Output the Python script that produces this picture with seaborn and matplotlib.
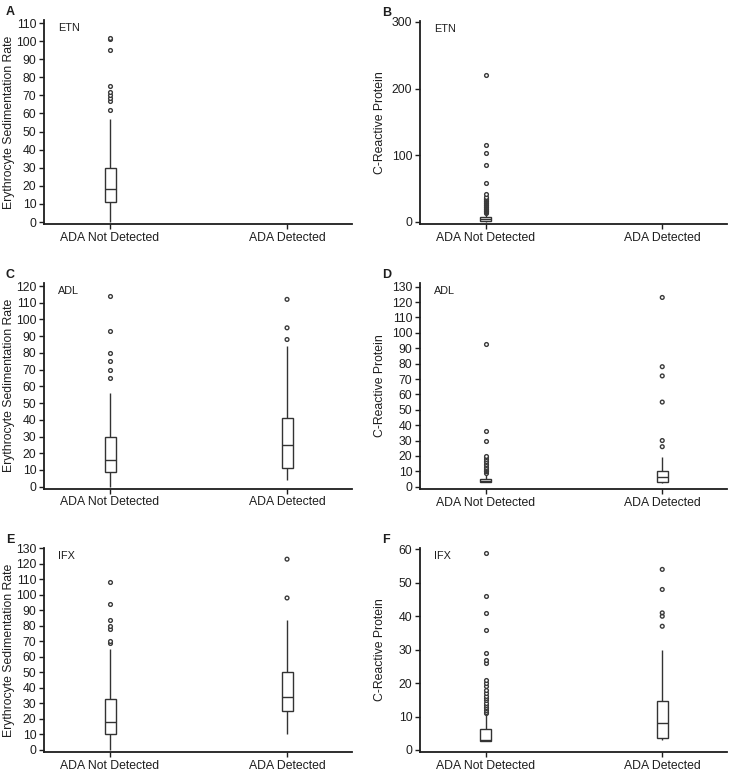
import numpy as np
import pandas as pd
import matplotlib
matplotlib.use("Agg")
import matplotlib.pyplot as plt
import seaborn as sns

# ---------------- data ----------------
groups = ["ADA Not Detected", "ADA Detected"]

# box summaries: [lower whisker, Q1, median, Q3, upper whisker]
etn_esr_nd = [0, 11, 18, 30, 57]
etn_esr_nd_out = [62, 67, 68.5, 70, 72, 75, 95, 101, 102]
etn_esr_d = []
etn_esr_d_out = []

etn_crp_nd = [0, 2, 4, 7.5, 13]
etn_crp_nd_out = [14, 15, 16, 17, 18, 19, 20, 21, 22, 23, 24, 25, 26, 27, 28,
                  29, 30, 31, 32, 33, 34, 35, 36, 37, 42, 58, 85, 103, 115, 220]
etn_crp_d = []
etn_crp_d_out = []

adl_esr_nd = [0, 9, 16, 30, 56]
adl_esr_nd_out = [65, 70, 75, 80, 93, 114]
adl_esr_d = [4, 11, 25, 41, 84]
adl_esr_d_out = [88, 95, 112]

adl_crp_nd = [2.8, 3, 4, 5, 8]
adl_crp_nd_out = [9, 10, 10.5, 11, 11.5, 12, 13, 14, 15, 16, 17, 18, 19, 20, 30, 36, 93]
adl_crp_d = [2.5, 3, 6.5, 10.2, 19.5]
adl_crp_d_out = [26, 30, 55, 72, 78, 123]

ifx_esr_nd = [0, 10, 18, 33, 65]
ifx_esr_nd_out = [69, 70, 78, 80, 84, 94, 108]
ifx_esr_d = [10, 25, 34, 50, 84]
ifx_esr_d_out = [98, 123]

ifx_crp_nd = [2.8, 2.8, 3, 6.3, 10.5]
ifx_crp_nd_out = [11, 11.5, 12, 12.5, 13, 13.5, 14, 15, 15.5, 16, 17, 18, 19, 20,
                  21, 26, 27, 29, 36, 41, 46, 59]
ifx_crp_d = [3, 3.5, 8, 14.7, 30]
ifx_crp_d_out = [37, 40, 41, 48, 54]

esr_label = "Erythrocyte Sedimentation Rate"
crp_label = "C-Reactive Protein"

panels = [
    dict(letter="A", drug="ETN", ylabel=esr_label, nd=etn_esr_nd, nd_out=etn_esr_nd_out,
         d=etn_esr_d, d_out=etn_esr_d_out, ticks=np.arange(0, 111, 10)),
    dict(letter="B", drug="ETN", ylabel=crp_label, nd=etn_crp_nd, nd_out=etn_crp_nd_out,
         d=etn_crp_d, d_out=etn_crp_d_out, ticks=np.arange(0, 301, 100)),
    dict(letter="C", drug="ADL", ylabel=esr_label, nd=adl_esr_nd, nd_out=adl_esr_nd_out,
         d=adl_esr_d, d_out=adl_esr_d_out, ticks=np.arange(0, 121, 10)),
    dict(letter="D", drug="ADL", ylabel=crp_label, nd=adl_crp_nd, nd_out=adl_crp_nd_out,
         d=adl_crp_d, d_out=adl_crp_d_out, ticks=np.arange(0, 131, 10)),
    dict(letter="E", drug="IFX", ylabel=esr_label, nd=ifx_esr_nd, nd_out=ifx_esr_nd_out,
         d=ifx_esr_d, d_out=ifx_esr_d_out, ticks=np.arange(0, 131, 10)),
    dict(letter="F", drug="IFX", ylabel=crp_label, nd=ifx_crp_nd, nd_out=ifx_crp_nd_out,
         d=ifx_crp_d, d_out=ifx_crp_d_out, ticks=np.arange(0, 61, 10)),
]

# ---------------- layout (pixel boxes) ----------------
W, H = 730, 771
boxes = [
    ((44, 20, 352, 224), (-1.1, 111.7)),
    ((420, 21, 727, 224), (-3.0, 301.5)),
    ((44, 283, 352, 488.7), (-1.2, 121.8)),
    ((420, 283, 727, 489), (-1.5, 132.4)),
    ((44, 547.7, 352, 752.3), (-1.5, 130.4)),
    ((420, 548, 727, 752), (-0.6, 60.4)),
]
label_offsets = [29, 34, 29, 34, 29, 34]

sns.set_theme(style="ticks")
plt.rcParams["font.family"] = ["Liberation Sans", "DejaVu Sans"]
ink = "#1e1e1e"

fig = plt.figure(figsize=(W / 100, H / 100), dpi=100)
fig.patch.set_facecolor("white")

for p, ((l, t, r, b), ylim), loff in zip(panels, boxes, label_offsets):
    ax = fig.add_axes([l / W, (H - b) / H, (r - l) / W, (b - t) / H])
    rows = [(groups[0], v) for v in p["nd"]] + [(groups[1], v) for v in p["d"]]
    df = pd.DataFrame(rows, columns=["group", "value"])
    out_rows = [(groups[0], v) for v in p["nd_out"]] + [(groups[1], v) for v in p["d_out"]]
    dfo = pd.DataFrame(out_rows, columns=["group", "value"])

    sns.boxplot(data=df, x="group", y="value", order=groups, ax=ax,
                whis=np.inf, showfliers=False, width=0.062, color="white",
                linecolor="#333333", linewidth=1.0, showcaps=False)
    sns.stripplot(data=dfo, x="group", y="value", order=groups, ax=ax,
                  jitter=False, size=2.7, color="white", edgecolor="#3a3a3a",
                  linewidth=1.0, zorder=3)
    ax.collections[-1].set_facecolor("none")

    ax.set_xlim(-0.373, 1.367)
    ax.set_ylim(*ylim)
    ax.set_yticks(p["ticks"])
    ax.set_xlabel("")
    ax.set_ylabel(p["ylabel"], fontsize=8.8, color=ink)
    ax.yaxis.set_label_coords(-loff / (r - l), 0.5)
    ax.tick_params(axis="both", labelsize=8.8, colors=ink, length=3.5, width=1.0, pad=2)
    for s in ["left", "bottom"]:
        ax.spines[s].set_linewidth(1.3)
        ax.spines[s].set_color(ink)
    sns.despine(ax=ax)
    ax.text(0.045, 0.985, p["drug"], transform=ax.transAxes, fontsize=7.8,
            color=ink, va="top", ha="left")
    fig.text((l - 38) / W, (H - t + 14) / H, p["letter"], fontsize=9,
             fontweight="bold", color=ink, ha="left", va="top")

fig.savefig("out.png", dpi=100, facecolor="white")
